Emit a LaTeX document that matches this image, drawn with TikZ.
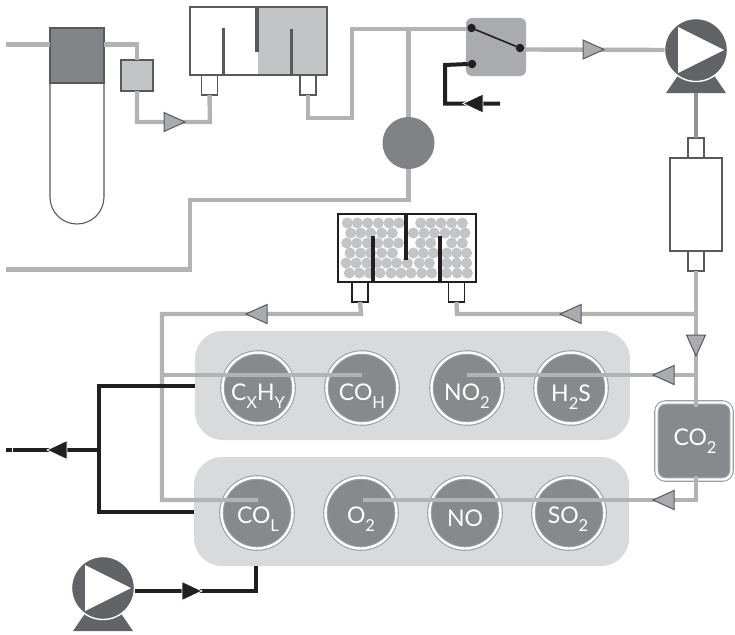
\documentclass[tikz,border=0pt]{standalone}
\usepackage{fontspec}
\setmainfont{Lato}
\definecolor{gasline}{HTML}{B1B3B5}
\definecolor{feedline}{HTML}{8F9193}
\definecolor{linedark}{HTML}{231F20}
\definecolor{edgegray}{HTML}{58595B}
\definecolor{sensorfill}{HTML}{88898C}
\definecolor{ringgray}{HTML}{9C9EA1}
\definecolor{panelgray}{HTML}{D9DADC}
\definecolor{midgray}{HTML}{A9ABAE}
\definecolor{pumpgray}{HTML}{626366}
\definecolor{boxlight}{HTML}{C3C4C6}
\definecolor{tubedark}{HTML}{838487}
\definecolor{blobgray}{HTML}{808285}
\definecolor{baffle}{HTML}{58595B}
\newcommand{\lowtxt}[1]{\raisebox{-0.36em}{\fontsize{16.5}{16.5}\selectfont #1}}
\tikzset{
  x=1pt,y=-1pt,
  every node/.style={inner sep=0pt,outer sep=0pt},
  gaspipe/.style={draw=gasline,line width=4.4pt},
  darkpipe/.style={draw=linedark,line width=4pt},
  boxnode/.style={draw=edgegray,line width=1.3pt,fill=white,rectangle},
  stubnode/.style={boxnode,minimum width=16pt,minimum height=20pt},
  panelnode/.style={fill=panelgray,rounded corners=28pt,rectangle},
  sensornode/.style={circle,draw=ringgray,line width=1.1pt,double=white,double distance=2.4pt,fill=sensorfill,minimum size=71pt},
  labelnode/.style={text=white,font=\fontsize{23}{23}\selectfont},
  bafflebar/.style={draw=baffle,line width=3.8pt},
  switchdot/.style={circle,fill=linedark,minimum size=8.5pt},
  pics/flowtri/.style={code={\draw[fill=midgray,draw=edgegray,line width=1pt,line join=miter] (0,0)--(-21,-9.5)--(-21,9.5)--cycle;}},
  pics/darktri/.style={code={\draw[fill=linedark,draw=white,line width=0.8pt,line join=miter] (0,0)--(-20,-9.5)--(-20,9.5)--cycle;}},
  pics/pumpsym/.style={code={
    \fill[pumpgray] (-30,43)--(30,43)--(17,24)--(-17,24)--cycle;
    \node[circle,fill=pumpgray,draw=white,line width=1.4pt,minimum size=63pt] (-body) at (0,0) {};
    \fill[white] (-18,-23)--(28,0)--(-18,23)--cycle;
  }}
}
\begin{document}
\begin{tikzpicture}
\useasboundingbox (0,0) rectangle (735,634);
\node[panelnode,minimum width=435pt,minimum height=109pt] (paneltop) at (412.5,385.5) {};
\node[panelnode,minimum width=435pt,minimum height=109pt] (panelbot) at (411.5,511.5) {};
\node[sensornode] (cxhy) at (258,388) {};
\node[sensornode] (coh) at (362,388) {};
\node[sensornode] (notwo) at (467,388) {};
\node[sensornode] (htwos) at (571,388) {};
\node[sensornode] (col) at (257,513) {};
\node[sensornode] (otwo) at (361,513) {};
\node[sensornode] (nox) at (465,513) {};
\node[sensornode] (sotwo) at (569,513) {};
\node[rectangle,rounded corners=9pt,draw=ringgray,line width=1.1pt,double=white,double distance=2.4pt,fill=sensorfill,minimum width=75pt,minimum height=77pt] (cotwo) at (694,441) {};
\coordinate (inlet) at (6,44.5);
\coordinate (tubeR) at (104,44.5);
\coordinate (c1) at (137,44.5);
\coordinate (c2) at (137,122);
\coordinate (c3) at (210,122);
\coordinate (c4) at (308,118);
\coordinate (c5) at (352,118);
\coordinate (c6) at (352,29);
\coordinate (c7) at (408.5,29);
\coordinate (c8) at (408.5,200);
\coordinate (c9) at (190,200);
\coordinate (c10) at (190,269.5);
\coordinate (c11) at (6,269.5);
\coordinate (sw1) at (466,29);
\coordinate (sw2) at (526,49.5);
\coordinate (pumpfoot) at (696,93);
\coordinate (main1) at (696,314);
\coordinate (main2) at (696,375);
\coordinate (main3) at (696,407);
\coordinate (main4) at (696,476);
\coordinate (main5) at (696,500);
\coordinate (o2end) at (363,500);
\coordinate (noend) at (467,375);
\coordinate (c12) at (457,314);
\coordinate (c13) at (361,314);
\coordinate (c14) at (162,314);
\coordinate (c15) at (162,500);
\coordinate (c16) at (258,500);
\coordinate (j1) at (162,375);
\coordinate (cohend) at (362,375);
\draw[draw=edgegray,line width=1.1pt,fill=white] (50,83) -- (50,197) .. controls (50,212) and (62,224) .. (77,224) .. controls (92,224) and (104,212) .. (104,197) -- (104,83);
\node[rectangle,fill=tubedark,draw=edgegray,line width=1.1pt,minimum width=54pt,minimum height=55pt] (tubehead) at (77,55.5) {};
\node[rectangle,fill=boxlight,draw=edgegray,line width=1.3pt,minimum width=32pt,minimum height=31pt] (filter) at (137,75.5) {};
\node[stubnode] (stubA) at (209.5,85) {};
\node[stubnode] (stubB) at (308,85) {};
\node[boxnode,minimum width=137pt,minimum height=68pt] (trap) at (258.5,41) {};
\fill[boxlight] (258,7.7) rectangle (326.3,74.3);
\draw[bafflebar] (257,7) -- (257,52);
\draw[bafflebar] (223.5,28) -- (223.5,75);
\draw[bafflebar] (291.5,29) -- (291.5,75);
\node[circle,fill=blobgray,minimum size=52pt] (blob) at (408.5,143) {};
\node[rectangle,rounded corners=6pt,fill=midgray,minimum width=60pt,minimum height=58pt] (switch) at (496,47) {};
\node[switchdot] (dotA) at (471.5,28) {};
\node[switchdot] (dotB) at (520,48) {};
\node[switchdot] (dotC) at (472,64) {};
\draw[draw=linedark,line width=1.6pt] (dotA) -- (dotB);
\pic (pa) at (696,50) {pumpsym};
\pic (pb) at (103,588) {pumpsym};
\node[stubnode] (stubC) at (696,148) {};
\node[stubnode] (stubD) at (696,261) {};
\node[boxnode,minimum width=52pt,minimum height=93pt] (column) at (696,204.5) {};
\node[stubnode,draw=linedark] (stubE) at (360,292) {};
\node[stubnode,draw=linedark] (stubF) at (456.5,292) {};
\node[boxnode,draw=linedark,minimum width=138pt,minimum height=68pt] (bed) at (407,248) {};
\foreach \y/\xs in {223/{52,82,113,145,177,207,272,302,333,365,397},
                    233/{62,92,122,155,187,250,282,313,345,375,405},
                    243/{50,80,112,143,175,205,272,302,365,397},
                    253/{60,92,122,155,187,250,280,310,350,380,410},
                    263/{48,78,110,140,170,200,232,268,298,350,380,410},
                    273/{58,88,118,150,183,213,243,275,305,350,382,412}} {
  \foreach \x in \xs { \fill[boxlight] ({330+\x/3},\y) circle[radius=5.5pt]; }
}
\draw[bafflebar,draw=linedark] (406,214) -- (406,260);
\draw[bafflebar,draw=linedark] (373,236) -- (373,282);
\draw[bafflebar,draw=linedark] (440,236) -- (440,282);
\draw[gaspipe] (inlet) -- (tubehead.west |- inlet);
\draw[gaspipe,line join=miter] (tubeR) -- (c1) -- (filter.north);
\draw[gaspipe,line join=miter] (filter.south) -- (c2) -- (c3) -- (stubA.south);
\draw[gaspipe,line join=miter] (stubB.south) -- (c4) -- (c5) -- (c6) -- (sw1);
\draw[gaspipe] (c7) -- (blob.north);
\draw[gaspipe,line join=miter] (blob.south) -- (c8) -- (c9) -- (c10) -- (c11);
\draw[gaspipe] (sw2) -- (pa-body.west);
\draw[gaspipe,line join=miter] (stubD.south) -- (main3);
\draw[gaspipe,line join=miter] (main4) -- (main5) -- (o2end);
\draw[gaspipe] (main2) -- (noend);
\draw[gaspipe,line join=miter] (main1) -- (c12) -- (stubF.south);
\draw[gaspipe,line join=miter] (stubE.south) -- (c13) -- (c14) -- (c15) -- (c16);
\draw[gaspipe] (j1) -- (cohend);
\coordinate (d1) at (445,65);
\coordinate (d2) at (445,103.5);
\coordinate (d3) at (500,103.5);
\coordinate (d4) at (99,385.5);
\coordinate (d5) at (99,512);
\coordinate (d6) at (99,450);
\coordinate (d7) at (13,450);
\coordinate (d8) at (11.5,450);
\coordinate (d9) at (6,450);
\coordinate (d10) at (256,591);
\draw[darkpipe,line join=miter] (d3) -- (d2) -- (d1) -- (dotC.west);
\draw[darkpipe,line join=miter] (paneltop.west |- d4) -- (d4) -- (d5) -- (panelbot.west |- d5);
\draw[darkpipe] (d6) -- (d7);
\draw[darkpipe] (d8) -- (d9);
\draw[darkpipe,line join=miter] (pb-body.east |- d10) -- (d10) -- (panelbot.south -| d10);
\pic at (185,122) {flowtri};
\pic at (604,49.5) {flowtri};
\pic[rotate=180] at (246,314) {flowtri};
\pic[rotate=180] at (560,314) {flowtri};
\pic[rotate=-90] at (696,356) {flowtri};
\pic[rotate=180] at (653,375) {flowtri};
\pic[rotate=180] at (653,500) {flowtri};
\pic[rotate=180] at (463,103.5) {darktri};
\pic[rotate=180] at (47,450) {darktri};
\pic at (202,591) {darktri};
\node[labelnode] (tCxHy) at (258,396) {C\lowtxt{X}H\lowtxt{Y}};
\node[labelnode] (tCOH) at (362,396) {CO\lowtxt{H}};
\node[labelnode] (tNOtwo) at (467,396) {NO\lowtxt{2}};
\node[labelnode] (tHtwoS) at (571,397) {H\lowtxt{2}S};
\node[labelnode] (tCOL) at (258,519) {CO\lowtxt{L}};
\node[labelnode] (tOtwo) at (361,519) {O\lowtxt{2}};
\node[labelnode] (tNO) at (465,518) {NO};
\node[labelnode] (tSOtwo) at (568,519) {SO\lowtxt{2}};
\node[labelnode] (tCOtwo) at (695,441) {CO\lowtxt{2}};
\draw[feedline,line width=4.8pt] (pumpfoot) -- (stubC.north);
\end{tikzpicture}
\end{document}
